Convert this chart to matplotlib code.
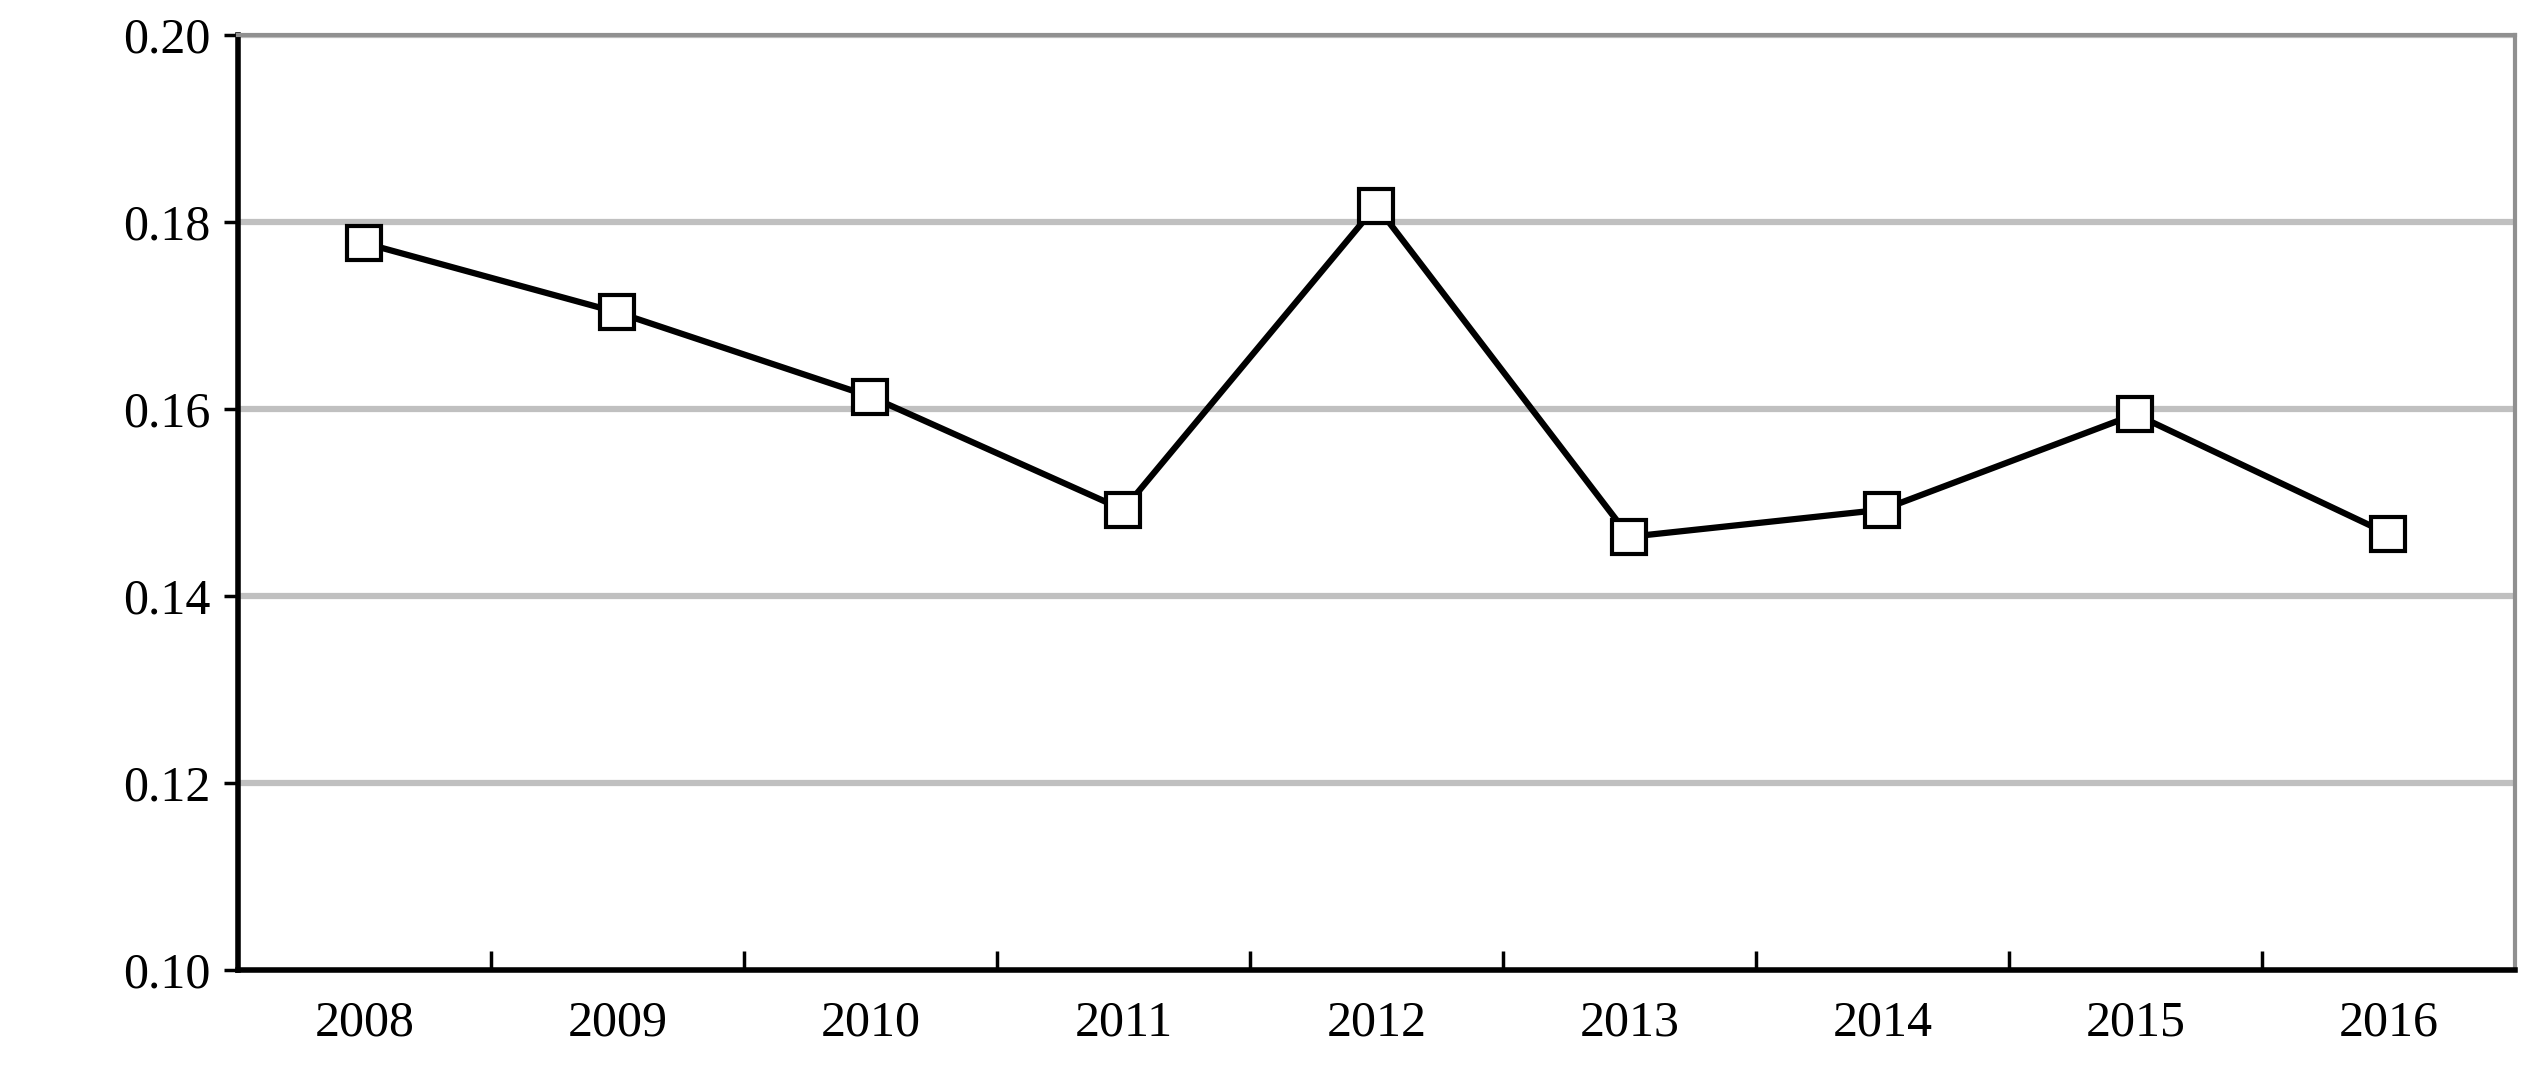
import matplotlib.pyplot as plt

years = ["2008", "2009", "2010", "2011", "2012", "2013", "2014", "2015", "2016"]
values = [0.1777, 0.1703, 0.1613, 0.1492, 0.1817, 0.1463, 0.1492, 0.1594, 0.1466]
yticks = [0.10, 0.12, 0.14, 0.16, 0.18, 0.20]

plt.rcParams['font.family'] = ['Liberation Serif', 'DejaVu Serif']
fig = plt.figure(figsize=(25.3, 10.8), dpi=100)
ax = fig.add_axes([0.094, 0.102, 0.9, 0.866])

x = list(range(len(years)))
for t in yticks[1:]:
    ax.axhline(t, color='#c0c0c0', lw=4.5, zorder=0)
ax.plot(x, values, color='black', lw=4.5, marker='s', markersize=24,
        markerfacecolor='white', markeredgecolor='black', markeredgewidth=3, zorder=3)

ax.set_xlim(-0.5, len(years) - 0.5)
ax.set_ylim(0.10, 0.20)
ax.set_yticks(yticks)
ax.set_yticklabels([f"{t:.2f}" for t in yticks])
ax.set_xticks([i + 0.5 for i in range(len(years) - 1)])
ax.set_xticklabels([])
ax.set_xticks(x, minor=True)
ax.set_xticklabels(years, minor=True)
ax.tick_params(axis='x', which='major', length=14, width=2.5, direction='in')
ax.tick_params(axis='x', which='minor', length=0, pad=22, labelsize=36)
ax.tick_params(axis='y', length=10, width=2.5, direction='out', pad=10, labelsize=36)

for s in ['left', 'bottom']:
    ax.spines[s].set_linewidth(4)
    ax.spines[s].set_color('black')
for s in ['top', 'right']:
    ax.spines[s].set_linewidth(3)
    ax.spines[s].set_color('#909090')

fig.savefig('out.png', dpi=100)
